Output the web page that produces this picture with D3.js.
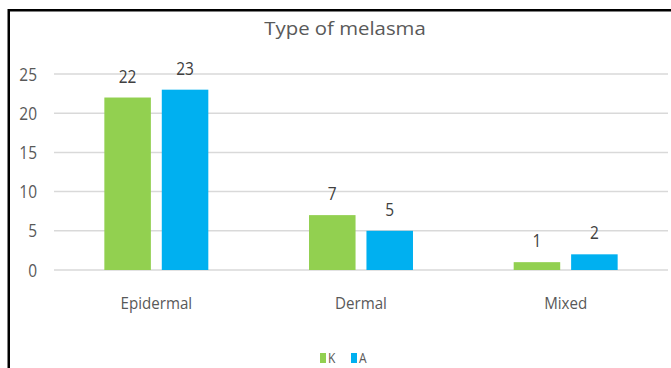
<!DOCTYPE html>
<html>
<head>
<meta charset="utf-8">
<script src="https://cdn.jsdelivr.net/npm/d3@7"></script>
<style>
  html, body { margin: 0; padding: 0; background: #fff; }
  svg { display: block; }
  text { font-family: "Open Sans", sans-serif; fill: #595959; }
</style>
</head>
<body>
<svg id="chart" width="671" height="368"></svg>
<script>
// Melasma type counts per group
const categories = ["Epidermal", "Dermal", "Mixed"];
const seriesNames = ["K", "A"];
const valuesK = [22, 7, 1];
const valuesA = [23, 5, 2];
const yTicks = [0, 5, 10, 15, 20, 25];
const colors = { K: "#92D050", A: "#00B0F0" };

const svg = d3.select("#chart");
const W = 671, H = 368;

// frame (left and top edges)
svg.append("path")
  .attr("d", `M8.75,${H} V10.25 H${W}`)
  .attr("fill", "none")
  .attr("stroke", "#000")
  .attr("stroke-width", 2.5);

const x0 = d3.scaleBand().domain(categories).range([54, 668])
  .paddingInner(0.492).paddingOuter(0.246);
const x1 = d3.scaleBand().domain(seriesNames).range([0, x0.bandwidth()])
  .paddingInner(0.19);
const y = d3.scaleLinear().domain([0, 25]).range([270, 74]);

// text with an optional horizontal stretch factor
function label(sel, x, yy, txt, size, anchor, sx) {
  return sel.append("text")
    .attr("transform", `translate(${x},${yy}) scale(${sx},1)`)
    .attr("text-anchor", anchor)
    .attr("font-size", size)
    .text(txt);
}

// title
label(svg, 345, 35, "Type of melasma", 18.5, "middle", 1.1);

// gridlines
svg.append("g").selectAll("line").data(yTicks).join("line")
  .attr("x1", 54).attr("x2", 668)
  .attr("y1", d => y(d)).attr("y2", d => y(d))
  .attr("stroke", "#d9d9d9").attr("stroke-width", 1.5);

// y tick labels
const yl = svg.append("g");
yTicks.forEach(t => label(yl, 37, y(t) + 6.5, String(t), 18, "end", 0.86));

// bars
const data = categories.map((c, i) => ({ cat: c, K: valuesK[i], A: valuesA[i] }));
const groups = svg.append("g").selectAll("g").data(data).join("g")
  .attr("transform", d => `translate(${x0(d.cat)},0)`);

groups.selectAll("rect")
  .data(d => seriesNames.map(s => ({ s, v: d[s] })))
  .join("rect")
  .attr("x", d => x1(d.s))
  .attr("width", x1.bandwidth())
  .attr("y", d => y(d.v))
  .attr("height", d => y(0) - y(d.v))
  .attr("fill", d => colors[d.s]);

// value labels
groups.each(function (d) {
  const g = d3.select(this);
  seriesNames.forEach(s => {
    label(g, x1(s) + x1.bandwidth() / 2, y(d[s]) - 15, String(d[s]), 18, "middle", 0.86)
      .style("fill", "#404040");
  });
});

// category labels
const xl = svg.append("g");
categories.forEach(c => label(xl, x0(c) + x0.bandwidth() / 2, 309, c, 17, "middle", 0.89));

// legend
const legend = svg.append("g");
const legendItems = [{ s: "K", x: 320 }, { s: "A", x: 351 }];
legendItems.forEach(it => {
  legend.append("rect")
    .attr("x", it.x).attr("y", 353)
    .attr("width", 6).attr("height", 10)
    .attr("fill", colors[it.s]);
  label(legend, it.x + 8, 363.3, it.s, 15, "start", 0.8);
});
</script>
</body>
</html>
